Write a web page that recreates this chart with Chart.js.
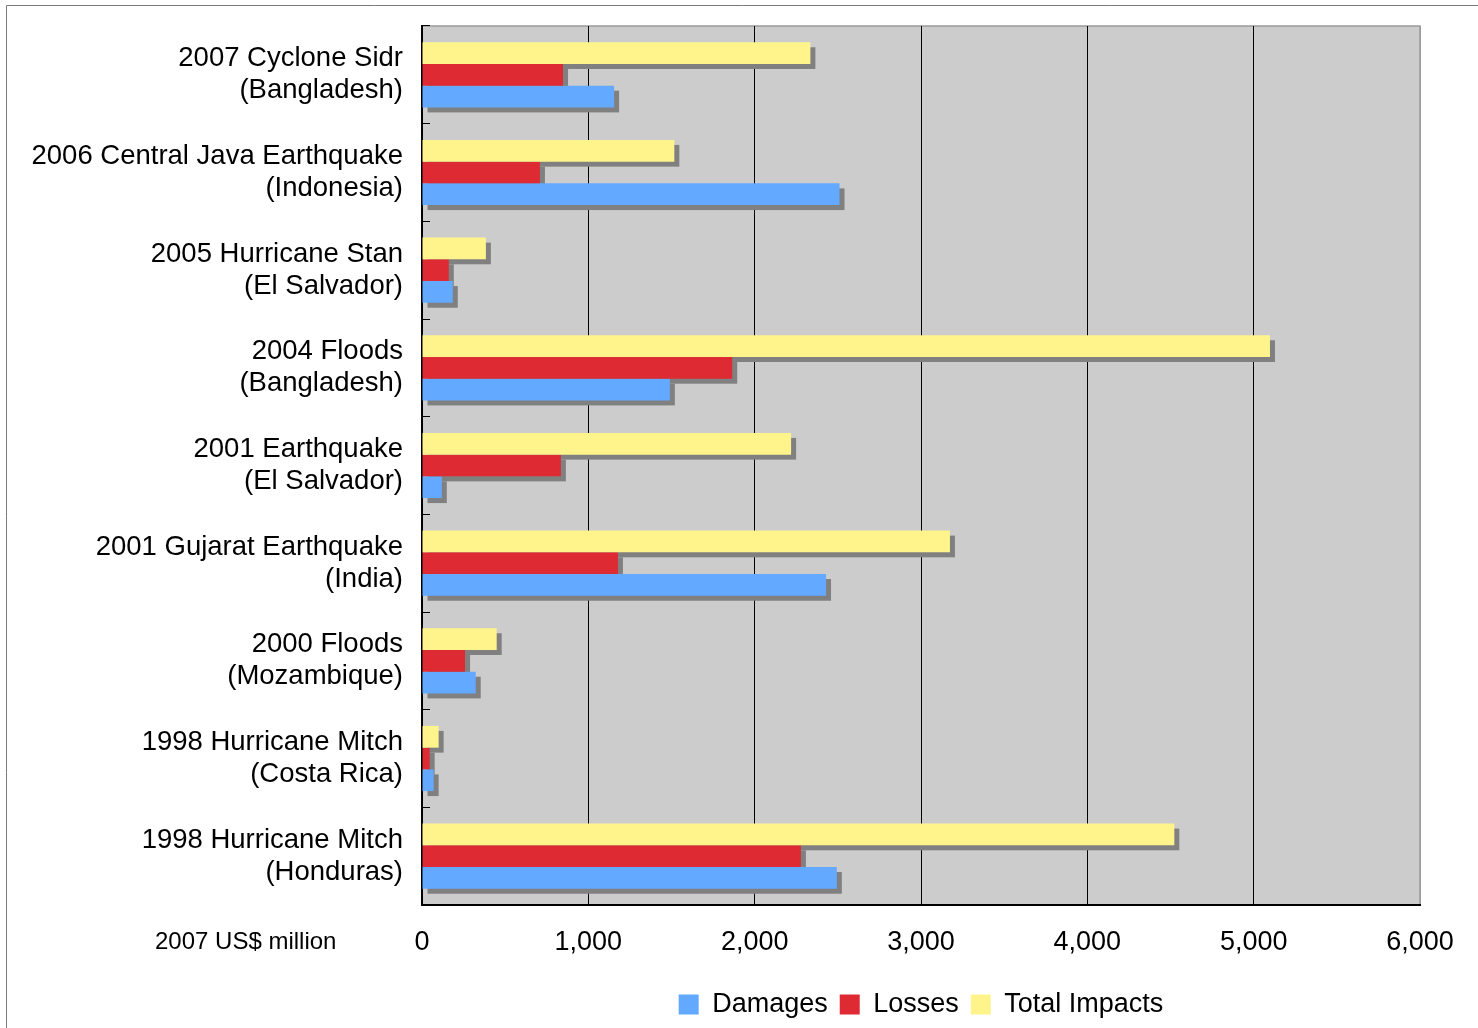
<!DOCTYPE html>
<html>
<head>
<meta charset="utf-8">
<script src="https://cdn.jsdelivr.net/npm/chart.js@4/dist/chart.umd.min.js"></script>
<style>
  html, body { margin: 0; padding: 0; background: #fff; overflow: hidden; }
  canvas { display: block; }
</style>
</head>
<body>
<canvas id="c" width="1478" height="1028"></canvas>
<script>
// Disaster events, top to bottom
const categories = [
  ['2007 Cyclone Sidr', '(Bangladesh)'],
  ['2006 Central Java Earthquake', '(Indonesia)'],
  ['2005 Hurricane Stan', '(El Salvador)'],
  ['2004 Floods', '(Bangladesh)'],
  ['2001 Earthquake', '(El Salvador)'],
  ['2001 Gujarat Earthquake', '(India)'],
  ['2000 Floods', '(Mozambique)'],
  ['1998 Hurricane Mitch', '(Costa Rica)'],
  ['1998 Hurricane Mitch', '(Honduras)']
];

// 2007 US$ million
const damages      = [1155, 2510, 185, 1490, 119, 2429, 323, 70, 2494];
const losses       = [848, 709, 161, 1865, 835, 1178, 259, 46, 2278];
const totalImpacts = [2335, 1517, 384, 5098, 2219, 3174, 449, 100, 4523];

const xTicks = [0, 1000, 2000, 3000, 4000, 5000, 6000];
const unitLabel = '2007 US$ million';

const FONT = "'Liberation Sans', Arial, sans-serif";

// White page, outer frame and grey plot background
const backdrop = {
  id: 'backdrop',
  beforeDraw(chart) {
    const { ctx, chartArea: a } = chart;
    ctx.save();
    ctx.fillStyle = '#ffffff';
    ctx.fillRect(0, 0, chart.width, chart.height);
    ctx.strokeStyle = '#7a7a7a';
    ctx.lineWidth = 1;
    ctx.beginPath();
    ctx.moveTo(6.5, chart.height);
    ctx.lineTo(6.5, 5.5);
    ctx.lineTo(chart.width, 5.5);
    ctx.stroke();
    ctx.fillStyle = '#cccccc';
    ctx.fillRect(a.left, a.top, a.right - a.left, a.bottom - a.top);
    ctx.strokeStyle = '#9a9a9a';
    ctx.lineWidth = 1.5;
    ctx.beginPath();
    ctx.moveTo(a.left, a.top);
    ctx.lineTo(a.right, a.top);
    ctx.lineTo(a.right, a.bottom);
    ctx.stroke();
    ctx.restore();
  }
};

// Drop shadows behind every bar, drawn before the bars themselves
const barShadows = {
  id: 'barShadows',
  beforeDatasetsDraw(chart) {
    const { ctx } = chart;
    ctx.save();
    ctx.fillStyle = '#808080';
    chart.getSortedVisibleDatasetMetas().forEach(meta => {
      meta.data.forEach(el => {
        const p = el.getProps(['x', 'y', 'base', 'height'], true);
        const left = Math.min(p.x, p.base);
        const w = Math.abs(p.x - p.base);
        ctx.fillRect(left + 5, p.y - p.height / 2 + 5, w, p.height);
      });
    });
    ctx.restore();
  }
};

// Units caption at the left end of the value axis
const unitCaption = {
  id: 'unitCaption',
  afterDraw(chart) {
    const { ctx, chartArea: a } = chart;
    ctx.save();
    ctx.font = '24px ' + FONT;
    ctx.fillStyle = '#000';
    ctx.textAlign = 'left';
    ctx.textBaseline = 'middle';
    ctx.fillText(unitLabel, a.left - 267, a.bottom + 37);
    ctx.restore();
  }
};

new Chart(document.getElementById('c'), {
  type: 'bar',
  data: {
    labels: categories,
    datasets: [
      { label: 'Total Impacts', data: totalImpacts, backgroundColor: '#FFF48C' },
      { label: 'Losses', data: losses, backgroundColor: '#DE2A33' },
      { label: 'Damages', data: damages, backgroundColor: '#62A9FF' }
    ]
  },
  options: {
    indexAxis: 'y',
    responsive: false,
    animation: false,
    devicePixelRatio: 1,
    categoryPercentage: 0.667,
    barPercentage: 1.0,
    layout: { padding: { left: 31, right: 58, top: 26, bottom: 0 } },
    plugins: {
      tooltip: { enabled: false },
      legend: {
        position: 'bottom',
        fullSize: false,
        reverse: true,
        labels: {
          font: { family: FONT, size: 27 },
          color: '#000',
          boxWidth: 20,
          boxHeight: 20,
          padding: 12
        }
      }
    },
    scales: {
      x: {
        type: 'linear',
        min: 0,
        max: 6000,
        afterBuildTicks(scale) { scale.ticks = xTicks.map(v => ({ value: v })); },
        afterFit(scale) { scale.height = 74; },
        ticks: {
          font: { family: FONT, size: 27 },
          color: '#000',
          padding: 21,
          maxRotation: 0
        },
        grid: {
          drawTicks: false,
          color: ctx => (ctx.tick && ctx.tick.value === 6000) ? '#9a9a9a' : '#000',
          lineWidth: 1
        },
        border: { display: true, color: '#000', width: 2 }
      },
      y: {
        afterFit(scale) {
          scale.width = 391;
          scale.paddingTop = 0;
          scale.paddingBottom = 0;
        },
        ticks: {
          font: { family: FONT, size: 27.5, lineHeight: '32px' },
          color: '#000',
          padding: 27
        },
        grid: {
          offset: true,
          drawOnChartArea: false,
          drawTicks: true,
          tickLength: -8,
          tickColor: '#000',
          lineWidth: 1
        },
        border: { display: true, color: '#000', width: 2 }
      }
    }
  },
  plugins: [backdrop, barShadows, unitCaption]
});
</script>
</body>
</html>
